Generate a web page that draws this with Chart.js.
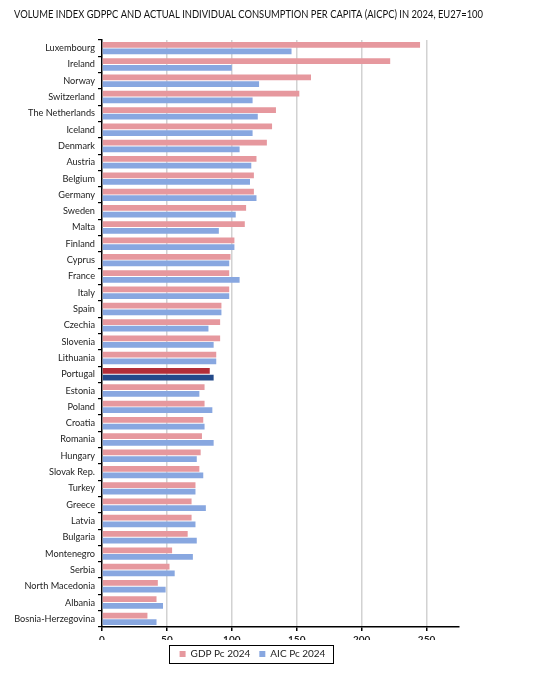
<!DOCTYPE html>
<html lang="en">
<head>
<meta charset="UTF-8">
<title>Volume index GDPPC and AICPC 2024</title>
<script src="https://cdn.jsdelivr.net/npm/chart.js@4.4.7/dist/chart.umd.min.js"></script>
<style>
  html, body { margin: 0; padding: 0; background: #fff; }
  #wrap { width: 534px; height: 681px; }
</style>
</head>
<body>
<div id="wrap"><canvas id="chart" width="534" height="681"></canvas></div>
<script>
// data (EU27 = 100)
const countries = ['Luxembourg', 'Ireland', 'Norway', 'Switzerland', 'The Netherlands', 'Iceland',
  'Denmark', 'Austria', 'Belgium', 'Germany', 'Sweden', 'Malta', 'Finland', 'Cyprus', 'France',
  'Italy', 'Spain', 'Czechia', 'Slovenia', 'Lithuania', 'Portugal', 'Estonia', 'Poland', 'Croatia',
  'Romania', 'Hungary', 'Slovak Rep.', 'Turkey', 'Greece', 'Latvia', 'Bulgaria', 'Montenegro',
  'Serbia', 'North Macedonia', 'Albania', 'Bosnia-Herzegovina'];
const gdpPc = [245, 222, 161, 152, 134, 131, 127, 119, 117, 117, 111, 110, 102, 99, 98, 98,
  92, 91, 91, 88, 83, 79, 79, 78, 77, 76, 75, 72, 69, 69, 66, 54, 52, 43, 42, 35];
const aicPc = [146, 100, 121, 116, 120, 116, 106, 115, 114, 119, 103, 90, 102, 98, 106, 98,
  92, 82, 86, 88, 86, 75, 85, 79, 86, 73, 78, 72, 80, 72, 73, 70, 56, 49, 47, 42];
const xTicks = [0, 50, 100, 150, 200, 250];
const highlight = 'Portugal';
const titleText = 'VOLUME INDEX GDPPC AND ACTUAL INDIVIDUAL CONSUMPTION PER CAPITA (AICPC) IN 2024, EU27=100';

const pink = '#E6989E', blue = '#88A7E0';
const darkRed = '#B32E38', darkBlue = '#244A8A';

// the title runs wider than the plot, so it is drawn by hand
const wideTitle = {
  id: 'wideTitle',
  afterDraw(chart) {
    const ctx = chart.ctx;
    ctx.save();
    ctx.fillStyle = '#111';
    ctx.font = '10.5px Lato';
    ctx.textBaseline = 'middle';
    ctx.fillText(titleText, 14, 15, 469);
    ctx.restore();
  }
};

// legend sits a bit right of centre in the original, with a box round it
const legendFrame = {
  id: 'legendFrame',
  afterLayout(chart) {
    chart.legend.left += 16;
    chart.legend.right += 16;
  },
  afterDraw(chart) {
    const boxes = chart.legend.legendHitBoxes;
    if (!boxes || !boxes.length) return;
    const l = Math.min(...boxes.map(b => b.left)) - 11;
    const r = Math.max(...boxes.map(b => b.left + b.width)) + 7;
    const t = boxes[0].top - 4;
    const h = boxes[0].height + 8;
    const ctx = chart.ctx;
    ctx.save();
    ctx.strokeStyle = '#000';
    ctx.lineWidth = 1;
    ctx.strokeRect(Math.round(l) + 0.5, Math.round(t) + 0.5, Math.round(r - l), Math.round(h));
    ctx.restore();
  }
};

new Chart(document.getElementById('chart'), {
  type: 'bar',
  data: {
    labels: countries,
    datasets: [{
      label: 'GDP Pc 2024',
      data: gdpPc,
      backgroundColor: countries.map(c => c === highlight ? darkRed : pink)
    }, {
      label: 'AIC Pc 2024',
      data: aicPc,
      backgroundColor: countries.map(c => c === highlight ? darkBlue : blue)
    }]
  },
  options: {
    indexAxis: 'y',
    responsive: false,
    animation: false,
    devicePixelRatio: 1,
    layout: { padding: { left: 14, right: 75, top: 40, bottom: 12 } },
    datasets: { bar: { categoryPercentage: 0.82, barPercentage: 0.86 } },
    scales: {
      x: {
        min: 0,
        max: 275,
        afterBuildTicks(scale) {
          scale.ticks = xTicks.map(v => ({ value: v }));
        },
        afterFit(scale) { scale.height -= 9; },
        grid: {
          color: ctx => ctx.tick && ctx.tick.value === 0 ? 'rgba(0,0,0,0)' : '#D2D2D2',
          lineWidth: 1.5,
          tickColor: '#000',
          tickLength: 4
        },
        border: { color: '#000', width: 1.5 },
        ticks: {
          color: '#222',
          padding: 3,
          font: { family: 'Lato', size: 10, weight: 'bold' }
        }
      },
      y: {
        afterFit(scale) { scale.width = 88; },
        grid: {
          offset: true,
          drawOnChartArea: false,
          tickColor: '#000',
          tickLength: 4,
          lineWidth: 1.2
        },
        border: { color: '#000', width: 1.5 },
        ticks: {
          color: '#222',
          padding: 3,
          autoSkip: false,
          font: { family: 'Lato', size: 9.2 }
        }
      }
    },
    plugins: {
      title: { display: false },
      legend: {
        position: 'bottom',
        labels: {
          color: '#222',
          boxWidth: 6,
          boxHeight: 6,
          padding: 9,
          font: { family: 'Lato', size: 10 }
        }
      },
      tooltip: { enabled: false }
    }
  },
  plugins: [wideTitle, legendFrame]
});
</script>
</body>
</html>
